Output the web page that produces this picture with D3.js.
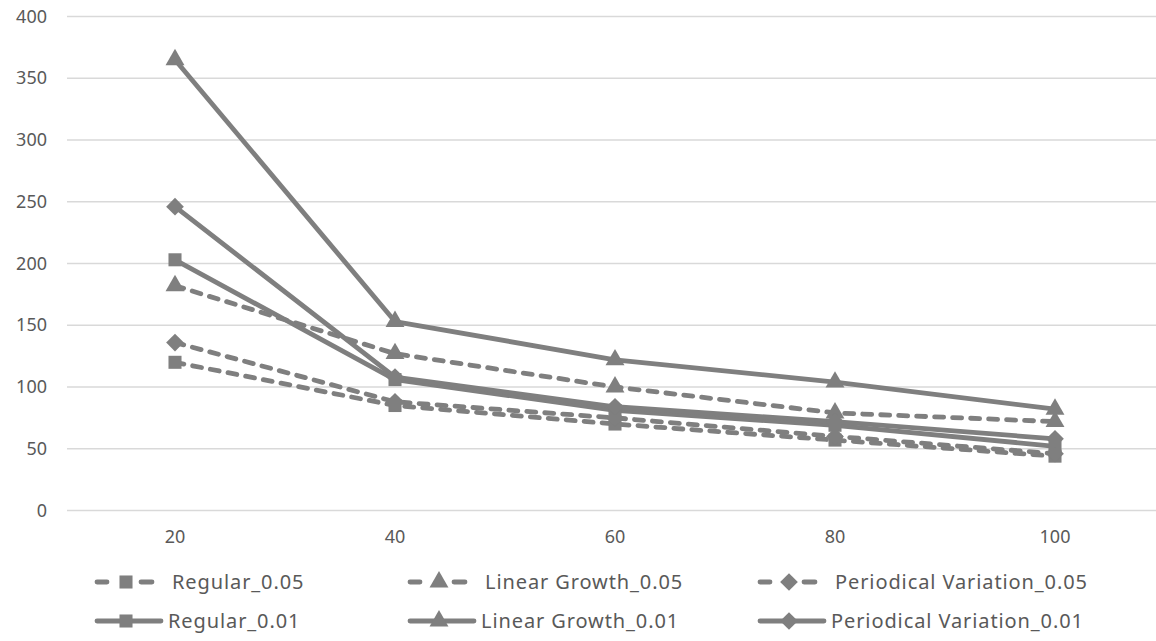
<!DOCTYPE html>
<html>
<head>
<meta charset="utf-8">
<script src="https://cdn.jsdelivr.net/npm/d3@7"></script>
<style>
  body { margin: 0; background: #fff; }
  text { font-family: "Noto Sans", "DejaVu Sans", sans-serif; fill: #595959; }
</style>
</head>
<body>
<script>
var width = 1156, height = 641;

// data
var categories = [20, 40, 60, 80, 100];
var yTicks = [0, 50, 100, 150, 200, 250, 300, 350, 400];
var regular05 = [120, 85, 70, 57, 44];
var linear05 = [182, 127, 100, 79, 72];
var periodic05 = [136, 88, 75, 60, 46];
var regular01 = [203, 106, 81, 69, 52];
var linear01 = [365, 153, 122, 104, 82];
var periodic01 = [246, 108, 84, 72, 58];

var series = [
  {name: "Regular_0.05", values: regular05, marker: "square", dashed: true},
  {name: "Linear Growth_0.05", values: linear05, marker: "triangle", dashed: true},
  {name: "Periodical Variation_0.05", values: periodic05, marker: "diamond", dashed: true},
  {name: "Regular_0.01", values: regular01, marker: "square", dashed: false},
  {name: "Linear Growth_0.01", values: linear01, marker: "triangle", dashed: false},
  {name: "Periodical Variation_0.01", values: periodic01, marker: "diamond", dashed: false}
];

var grey = "#7f7f7f";

var svg = d3.select("body").append("svg")
    .attr("width", width)
    .attr("height", height);

//
//**   Osie   **/
//

var x = d3.scaleBand()
    .domain(categories)
    .range([65, 1165]);

var y = d3.scaleLinear()
    .domain([0, 400])
    .range([510.5, 16.5]);

svg.append("g").selectAll("line")
    .data(yTicks)
    .enter().append("line")
    .attr("x1", 67)
    .attr("x2", 1165)
    .attr("y1", function(d) { return y(d); })
    .attr("y2", function(d) { return y(d); })
    .style("stroke", "#d9d9d9")
    .style("stroke-width", 1.3);

svg.append("g").selectAll("text")
    .data(yTicks)
    .enter().append("text")
    .attr("x", 47)
    .attr("y", function(d) { return y(d) + 6; })
    .style("text-anchor", "end")
    .style("font-size", "18px")
    .text(function(d) { return d; });

svg.append("g").selectAll("text")
    .data(categories)
    .enter().append("text")
    .attr("x", function(d) { return x(d) + x.bandwidth() / 2; })
    .attr("y", 543)
    .style("text-anchor", "middle")
    .style("font-size", "18px")
    .text(function(d) { return d; });

//
//**   Wykres   **/
//

var symbols = {
  square: d3.symbol().type(d3.symbolSquare).size(170),
  triangle: d3.symbol().type(d3.symbolTriangle).size(155),
  diamond: d3.symbol().type(d3.symbolDiamond2).size(200)
};

var line = d3.line()
    .x(function(d, i) { return x(categories[i]) + x.bandwidth() / 2; })
    .y(function(d) { return y(d); });

// draw dashed first, solid on top
series.forEach(function(s) {
  svg.append("path")
      .datum(s.values)
      .attr("d", line)
      .style("fill", "none")
      .style("stroke", grey)
      .style("stroke-width", 4.8)
      .style("stroke-linecap", "round")
      .style("stroke-linejoin", "round")
      .style("stroke-dasharray", s.dashed ? "9,9" : null);

  svg.append("g").selectAll("path")
      .data(s.values)
      .enter().append("path")
      .attr("transform", function(d, i) {
        return "translate(" + (x(categories[i]) + x.bandwidth() / 2) + "," + y(d) + ")";
      })
      .attr("d", symbols[s.marker])
      .style("fill", grey);
});

//
//**   Legenda   **/
//

var legX = [95, 408, 758];
var legY = [582, 621];

series.forEach(function(s, i) {
  var col = i % 3, row = Math.floor(i / 3);
  var g = svg.append("g")
      .attr("transform", "translate(" + legX[col] + "," + legY[row] + ")");
  if (s.dashed) {
    g.append("line").attr("x1", 2).attr("x2", 12).attr("y1", 0).attr("y2", 0);
    g.append("line").attr("x1", 46).attr("x2", 57).attr("y1", 0).attr("y2", 0);
  } else {
    g.append("line").attr("x1", 2).attr("x2", 66).attr("y1", 0).attr("y2", 0);
  }
  g.selectAll("line")
      .style("stroke", grey)
      .style("stroke-width", 4.8)
      .style("stroke-linecap", "round");
  g.append("path")
      .attr("transform", "translate(31,0)")
      .attr("d", symbols[s.marker])
      .style("fill", grey);
  g.append("text")
      .attr("x", s.dashed ? 77 : 73)
      .attr("y", 7)
      .style("font-size", "20px")
      .style("letter-spacing", "0.9px")
      .text(s.name);
});
</script>
</body>
</html>
